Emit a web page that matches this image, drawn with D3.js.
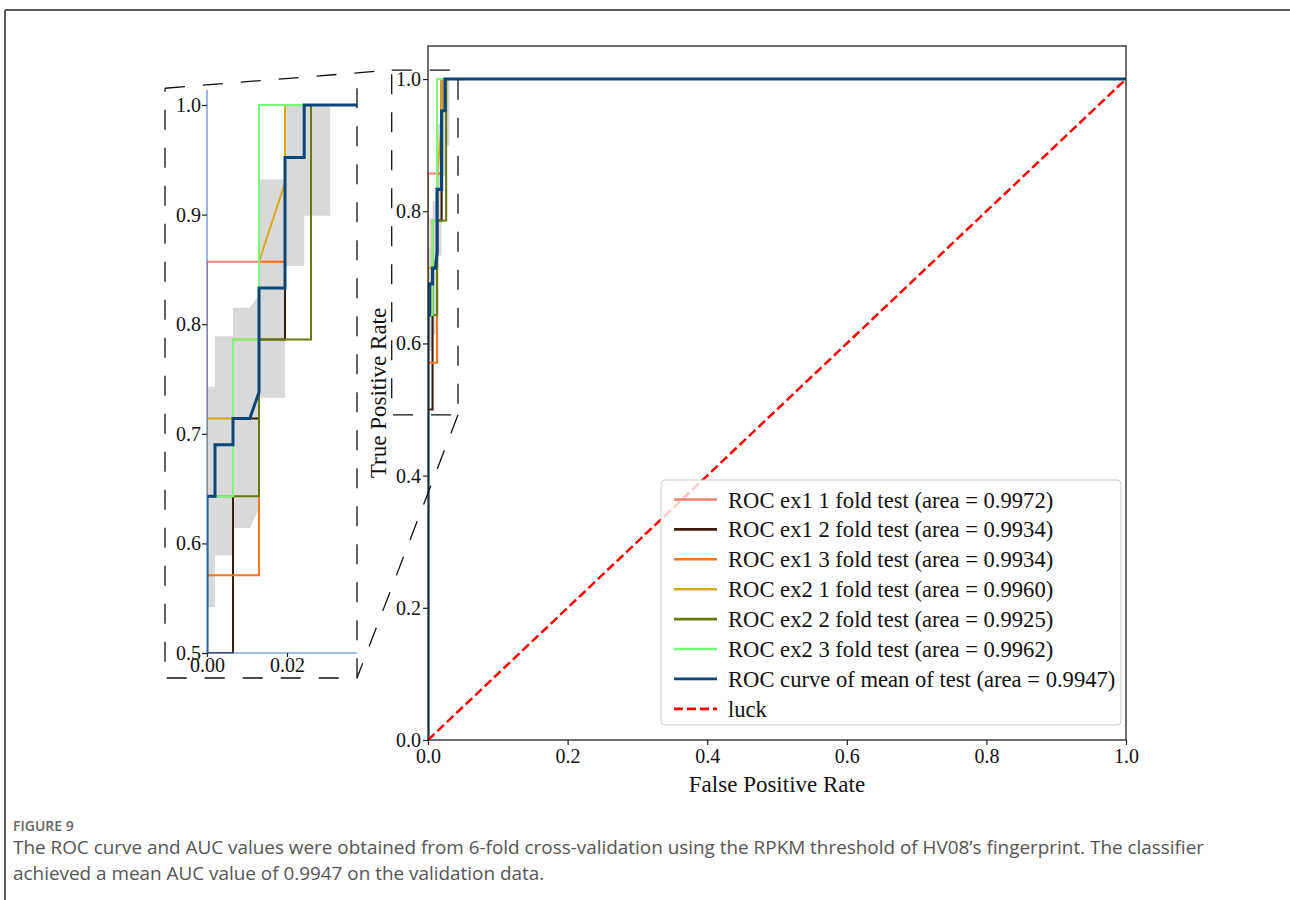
<!DOCTYPE html>
<html><head><meta charset="utf-8">
<script src="https://cdn.jsdelivr.net/npm/d3@7"></script>
<style>
html,body{margin:0;padding:0;background:#fff;}
</style></head>
<body>
<svg id="chart" width="1290" height="900"></svg>
<script>
// ---------------- data ----------------
const seriesNames = [
  "ROC ex1 1 fold test (area = 0.9972)",
  "ROC ex1 2 fold test (area = 0.9934)",
  "ROC ex1 3 fold test (area = 0.9934)",
  "ROC ex2 1 fold test (area = 0.9960)",
  "ROC ex2 2 fold test (area = 0.9925)",
  "ROC ex2 3 fold test (area = 0.9962)",
  "ROC curve of mean of test (area = 0.9947)",
  "luck"
];
const seriesColors = ["#f97e72","#3b1d0b","#fb7420","#dba91c","#697a0c","#7cf77c","#0c4677","#ff0000"];

const fprEx1f1 = [0, 0, 0.0195, 0.0195, 1];
const tprEx1f1 = [0, 0.857, 0.857, 1, 1];
const fprEx1f2 = [0, 0, 0.0065, 0.0065, 0.013, 0.013, 0.0195, 0.0195, 1];
const tprEx1f2 = [0, 0.5, 0.5, 0.714, 0.714, 0.786, 0.786, 1, 1];
const fprEx1f3 = [0, 0, 0.013, 0.013, 0.0195, 0.0195, 1];
const tprEx1f3 = [0, 0.571, 0.571, 0.857, 0.857, 1, 1];
const fprEx2f1 = [0, 0, 0.0065, 0.0065, 0.013, 0.013, 0.0195, 0.0195, 1];
const tprEx2f1 = [0, 0.714, 0.714, 0.786, 0.786, 0.857, 0.929, 1, 1];
const fprEx2f2 = [0, 0, 0.013, 0.013, 0.026, 0.026, 1];
const tprEx2f2 = [0, 0.643, 0.643, 0.786, 0.786, 1, 1];
const fprEx2f3 = [0, 0, 0.0065, 0.0065, 0.013, 0.013, 1];
const tprEx2f3 = [0, 0.643, 0.643, 0.786, 0.786, 1, 1];
const fprMean = [0, 0, 0.002, 0.002, 0.0065, 0.0065, 0.0107, 0.013, 0.013, 0.0195, 0.0195, 0.0243, 0.0243, 1];
const tprMean = [0, 0.643, 0.643, 0.690, 0.690, 0.714, 0.714, 0.738, 0.833, 0.833, 0.952, 0.952, 1, 1];
const bandFpr = [0, 0.002, 0.002, 0.0065, 0.0065, 0.0107, 0.0132, 0.0132, 0.0195, 0.0195, 0.0243, 0.0243, 0.0308, 0.0308];
const bandLow = [0.542, 0.542, 0.589, 0.589, 0.614, 0.614, 0.633, 0.733, 0.733, 0.853, 0.853, 0.899, 0.899, 1.0];
const bandHigh = [0.743, 0.743, 0.789, 0.789, 0.815, 0.815, 0.828, 0.932, 0.932, 1.0, 1.0, 1.0, 1.0, 1.0];
const luckFpr = [0, 1];
const luckTpr = [0, 1];

const mainXTicks = [0, 0.2, 0.4, 0.6, 0.8, 1.0];
const mainYTicks = [0, 0.2, 0.4, 0.6, 0.8, 1.0];
const insetXTicks = [0, 0.02];
const insetYTicks = [0.5, 0.6, 0.7, 0.8, 0.9, 1.0];

const zoomBoxX = [-0.052, 0.043];
const zoomBoxY = [0.492, 1.0136];
const insetFrameX = [-0.0105, 0.0375];
const insetFrameY = [0.4772, 1.0153];

const captionTitle = "FIGURE 9";
const captionLines = [
  "The ROC curve and AUC values were obtained from 6-fold cross-validation using the RPKM threshold of HV08\u2019s fingerprint. The classifier",
  "achieved a mean AUC value of 0.9947 on the validation data."
];

// ---------------- build ----------------
const SERIF = "'Liberation Serif', 'Times New Roman', serif";
const SANS = "'Open Sans', 'Noto Sans', sans-serif";

const curves = [
  [fprEx1f1, tprEx1f1], [fprEx1f2, tprEx1f2], [fprEx1f3, tprEx1f3],
  [fprEx2f1, tprEx2f1], [fprEx2f2, tprEx2f2], [fprEx2f3, tprEx2f3]
].map(([f, t]) => f.map((v, i) => [v, t[i]]));
const meanCurve = fprMean.map((v, i) => [v, tprMean[i]]);
const band = bandFpr.map((v, i) => ({x: v, lo: bandLow[i], hi: bandHigh[i]}));
const luck = luckFpr.map((v, i) => [v, luckTpr[i]]);

const svg = d3.select("#chart");

// figure frame
svg.append("line").attr("x1", 5).attr("x2", 1290).attr("y1", 10).attr("y2", 10)
  .attr("stroke", "#5a5a5a").attr("stroke-width", 2);
svg.append("line").attr("x1", 5).attr("x2", 5).attr("y1", 10).attr("y2", 900)
  .attr("stroke", "#5a5a5a").attr("stroke-width", 2);

const M = {left: 428, right: 1126, top: 46, bottom: 740};
const x = d3.scaleLinear().domain([0, 1]).range([M.left, M.right]);
const y = d3.scaleLinear().domain([0, 1.05]).range([M.bottom, M.top]);

const I = {left: 207, right: 357, top: 90, bottom: 653};
const xi = d3.scaleLinear().domain([0, 0.0375]).range([I.left, I.right]);
const yi = d3.scaleLinear().domain([0.5, 1.0137]).range([I.bottom, I.top]);

const defs = svg.append("defs");
defs.append("clipPath").attr("id", "clipMain").append("rect")
  .attr("x", M.left).attr("y", M.top).attr("width", M.right - M.left).attr("height", M.bottom - M.top);
defs.append("clipPath").attr("id", "clipInset").append("rect")
  .attr("x", I.left).attr("y", I.top).attr("width", I.right - I.left).attr("height", I.bottom - I.top + 0.5);

function drawPlot(g, sx, sy, clipId, lwScale) {
  const pg = g.append("g").attr("clip-path", `url(#${clipId})`);
  const area = d3.area().x(d => sx(d.x)).y0(d => sy(d.lo)).y1(d => sy(d.hi));
  pg.append("path").datum(band).attr("d", area).attr("fill", "#d9d9d9");
  const line = d3.line().x(d => sx(d[0])).y(d => sy(d[1]));
  curves.forEach((c, i) => {
    pg.append("path").datum(c).attr("d", line).attr("fill", "none")
      .attr("stroke", seriesColors[i]).attr("stroke-width", 2 * lwScale)
      .attr("stroke-linejoin", "miter");
  });
  pg.append("path").datum(meanCurve).attr("d", line).attr("fill", "none")
    .attr("stroke", seriesColors[6]).attr("stroke-width", 3 * lwScale);
  return {pg, line};
}

function styleAxis(a) {
  a.select(".domain").remove();
  a.selectAll("line").attr("stroke", "#222").attr("stroke-width", 1.2);
  a.selectAll("text").attr("fill", "#111").style("font-family", SERIF).style("font-size", "20px");
}

// main plot
const gMain = svg.append("g");
const mp = drawPlot(gMain, x, y, "clipMain", 1.05);
mp.pg.append("path").datum(luck).attr("d", mp.line).attr("fill", "none")
  .attr("stroke", seriesColors[7]).attr("stroke-width", 2.5).attr("stroke-dasharray", "9,4");

gMain.append("rect").attr("x", M.left).attr("y", M.top).attr("width", M.right - M.left)
  .attr("height", M.bottom - M.top).attr("fill", "none").attr("stroke", "#222").attr("stroke-width", 1.3);

const axX = gMain.append("g").attr("transform", `translate(0,${M.bottom})`)
  .call(d3.axisBottom(x).tickValues(mainXTicks).tickFormat(d3.format(".1f")).tickSize(5).tickPadding(4));
const axY = gMain.append("g").attr("transform", `translate(${M.left},0)`)
  .call(d3.axisLeft(y).tickValues(mainYTicks).tickFormat(d3.format(".1f")).tickSize(5).tickPadding(2));
styleAxis(axX); styleAxis(axY);

gMain.append("text").attr("x", (M.left + M.right) / 2).attr("y", 792).attr("text-anchor", "middle")
  .style("font-family", SERIF).style("font-size", "23px").attr("fill", "#111").text("False Positive Rate");
gMain.append("text").attr("transform", `translate(386,${(M.top + M.bottom) / 2}) rotate(-90)`)
  .attr("text-anchor", "middle").style("font-family", SERIF).style("font-size", "23px")
  .attr("fill", "#111").text("True Positive Rate");

// inset
const gIn = svg.append("g");
drawPlot(gIn, xi, yi, "clipInset", 1.0);
gIn.append("line").attr("x1", I.left).attr("x2", I.left).attr("y1", I.top).attr("y2", I.bottom)
  .attr("stroke", "#4a78d0").attr("stroke-width", 1.1);
gIn.append("line").attr("x1", I.left).attr("x2", I.right).attr("y1", I.bottom).attr("y2", I.bottom)
  .attr("stroke", "#4a78d0").attr("stroke-width", 1.1);
const iaxX = gIn.append("g").attr("transform", `translate(0,${I.bottom})`)
  .call(d3.axisBottom(xi).tickValues(insetXTicks).tickFormat(d3.format(".2f")).tickSize(4).tickPadding(1));
const iaxY = gIn.append("g").attr("transform", `translate(${I.left},0)`)
  .call(d3.axisLeft(yi).tickValues(insetYTicks).tickFormat(d3.format(".1f")).tickSize(5).tickPadding(1));
styleAxis(iaxX); styleAxis(iaxY);

// zoom indicator dashed lines
function dl(pts) {
  svg.append("path").attr("d", d3.line()(pts)).attr("fill", "none")
    .attr("stroke", "#111").attr("stroke-width", 1.3).attr("stroke-dasharray", "20,18");
}
const zx0 = x(zoomBoxX[0]), zx1 = x(zoomBoxX[1]), zy0 = y(zoomBoxY[0]), zy1 = y(zoomBoxY[1]);
dl([[zx0, zy1], [zx1, zy1], [zx1, zy0], [zx0, zy0], [zx0, zy1]]);
const fx0 = xi(insetFrameX[0]), fx1 = xi(insetFrameX[1]), fy0 = yi(insetFrameY[0]), fy1 = yi(insetFrameY[1]);
dl([[fx1, fy1], [fx1, fy0], [fx0, fy0], [fx0, fy1]]);
dl([[fx0, fy1], [zx0, zy1]]);
dl([[zx1, zy0], [fx1, fy0]]);

// legend
const L = {x: 661, y: 480, w: 460, h: 245, row: 29.9, first: 499.5};
const gL = svg.append("g");
gL.append("rect").attr("x", L.x).attr("y", L.y).attr("width", L.w).attr("height", L.h)
  .attr("rx", 4).attr("fill", "#fff").attr("fill-opacity", 0.8).attr("stroke", "#cccccc").attr("stroke-width", 1);
seriesNames.forEach((name, i) => {
  const cy = L.first + i * L.row;
  gL.append("line").attr("x1", 674).attr("x2", 717).attr("y1", cy).attr("y2", cy)
    .attr("stroke", seriesColors[i]).attr("stroke-width", i === 7 ? 2.8 : 2.6)
    .attr("stroke-dasharray", i === 7 ? "9,4" : null);
  gL.append("text").attr("x", 728).attr("y", cy + 8).style("font-family", SERIF)
    .style("font-size", "22.6px").attr("fill", "#111").text(name);
});

// caption
svg.append("text").attr("x", 13).attr("y", 831).style("font-family", SANS)
  .style("font-weight", 600).style("font-size", "14px").attr("fill", "#666").text(captionTitle);
const capTexts = captionLines.map((t, i) =>
  svg.append("text").attr("x", 13).attr("y", 854 + i * 26).style("font-family", SANS)
    .style("font-size", "17px").attr("fill", "#555").text(t));
// fit first line to the reference's measured width
const w0 = capTexts[0].node().getComputedTextLength();
const fs = Math.max(14, Math.min(19, 17 * 1192 / w0));
capTexts.forEach(t => t.style("font-size", fs + "px"));
</script>
</body></html>
